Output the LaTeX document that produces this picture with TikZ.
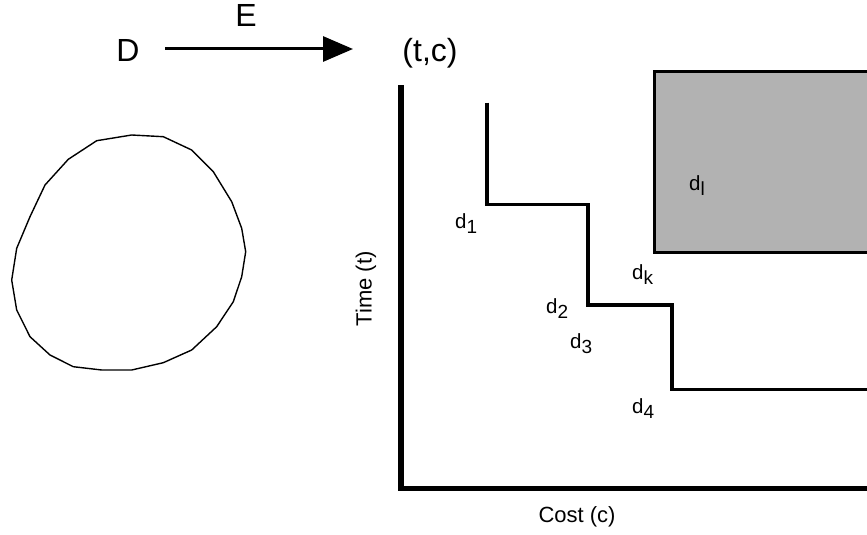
\documentclass[tikz,border=0pt]{standalone}
\usepackage{fontspec}
\setmainfont{Liberation Sans}
\usetikzlibrary{arrows.meta}
\definecolor{boxgray}{RGB}{178,178,178}
\tikzset{
  big/.style={font=\fontsize{32}{35}\selectfont, inner sep=0pt},
  axislabel/.style={font=\fontsize{22}{24}\selectfont, inner sep=0pt},
  dlabel/.style={font=\fontsize{20.5}{22}\selectfont, inner sep=0pt, anchor=base west},
  axisline/.style={line width=5.5pt},
  stairline/.style={line width=3.6pt},
}
\newcommand{\dsub}[1]{d\raisebox{-5pt}{\fontsize{19}{21}\selectfont #1}}
\begin{document}
\begin{tikzpicture}[x=1pt,y=-1pt]
\useasboundingbox (0,0) rectangle (867,535);
% top labels and arrow
\node[big] (D) at (128,50) {D};
\node[big] (E) at (246,15) {E};
\node[big] (tc) at (430,53) {(t,c)};
\coordinate (astart) at (165,49);
\coordinate (aend) at (353,49);
\draw[line width=3pt, -{Triangle[length=30pt,width=25pt]}] (astart) -- (aend);
% blob
\draw[line width=1.4pt, line join=round]
 (131.7,135) -- (163.3,136.7) -- (191.7,150) -- (213.3,171.7) -- (231.7,201.7)
 -- (241.7,228.3) -- (245.7,251.7) -- (241.7,276.7) -- (233.3,301.7) -- (216.7,326.7)
 -- (191.7,350) -- (163.3,362.7) -- (131.7,370) -- (101.7,370) -- (73.3,366.7)
 -- (50,355) -- (30,336.7) -- (16.7,310) -- (11.7,280) -- (16.7,248.3) -- (30,216.7)
 -- (45,185) -- (68.3,159.3) -- (96.7,140.7) -- cycle;
% gray region
\draw[line width=3pt, fill=boxgray] (870,71.7) -- (654.3,71.7) -- (654.3,252.7) -- (870,252.7);
% axes
\draw[axisline, line join=miter] (401,85) -- (401,488.5) -- (870,488.5);
% staircase
\draw[stairline, line join=miter] (486.7,102.7) -- (486.7,204.3) -- (587.7,204.3) -- (587.7,305)
 -- (671.7,305) -- (671.7,389.5) -- (870,389.5);
% axis labels
\node[axislabel] (cost) at (577,517) {Cost (c)};
\node[axislabel, rotate=90] (time) at (366,289) {Time (t)};
% d labels
\node[dlabel] (dl) at (689,190) {\dsub{l}};
\node[dlabel] (d1) at (455,228) {\dsub{1}};
\node[dlabel] (dk) at (632,279) {\dsub{k}};
\node[dlabel] (d2) at (546,313) {\dsub{2}};
\node[dlabel] (d3) at (570,348) {\dsub{3}};
\node[dlabel] (d4) at (632,413) {\dsub{4}};
\end{tikzpicture}
\end{document}
